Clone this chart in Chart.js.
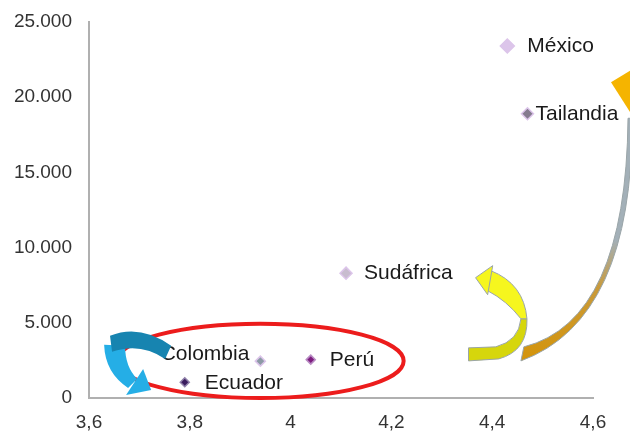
<!DOCTYPE html>
<html>
<head>
<meta charset="utf-8">
<script src="https://cdn.jsdelivr.net/npm/chart.js@4/dist/chart.umd.min.js"></script>
<style>
  html, body { margin: 0; padding: 0; background: #fff; }
  canvas { display: block; }
</style>
</head>
<body>
<canvas id="scatterChart" width="630" height="433"></canvas>
<script>
// data
const countries = ["México", "Tailandia", "Sudáfrica", "Colombia", "Perú", "Ecuador"];
const xValues = [4.43, 4.47, 4.11, 3.94, 4.04, 3.79];
const yValues = [23400, 18900, 8300, 2450, 2550, 1050];

// point looks
const pointFill = ["#dcc5ea", "#857b8f", "#c8bccf", "#8c9aa5", "#7d1c7e", "#3a1c5e"];
const pointEdge = ["#dcc5ea", "#dcc5ea", "#dcc5ea", "#dcc5ea", "#b98cc4", "#8f80aa"];
const pointSize = [7, 6, 6, 5, 4.5, 4.5];

const labelPlace = {
  "México": { dx: 20, dy: 0, align: "left" },
  "Tailandia": { dx: 8, dy: 0, align: "left" },
  "Sudáfrica": { dx: 18, dy: 0, align: "left" },
  "Colombia": { dx: -11, dy: -7, align: "right" },
  "Perú": { dx: 19, dy: 1, align: "left" },
  "Ecuador": { dx: 20, dy: 1, align: "left" },
};

// decorations, in data units
const ellipse = { x: 3.94, y: 2467, rx: 0.2843, ry: 2467 };

const blueShaft = [["M", 3.630, 3533], ["Q", 3.632, 1667, 3.6775, 667], ["L", 3.6954, 1267], ["Q", 3.6716, 2067, 3.6716, 3467]];
const blueHead = [["M", 3.6736, 200], ["L", 3.7074, 1933], ["L", 3.7233, 533]];
const blueTop = [["M", 3.6417, 4133], ["Q", 3.7014, 4933, 3.763, 3467], ["L", 3.7511, 2600], ["Q", 3.7014, 3733, 3.6457, 3067]];

const yellowLow = [["M", 4.469, 5267], ["Q", 4.471, 3133, 4.413, 2600], ["L", 4.353, 2467], ["L", 4.353, 3333], ["L", 4.407, 3400], ["Q", 4.453, 3800, 4.457, 5267]];
const yellowTop = [["M", 4.397, 8467], ["Q", 4.463, 7600, 4.469, 5267], ["L", 4.457, 5267], ["Q", 4.429, 6467, 4.391, 7133]];
const yellowHead = [["M", 4.367, 8000], ["L", 4.401, 8800], ["L", 4.391, 6867]];

const orangeBody = [["M", 4.457, 2467], ["Q", 4.6795, 5200, 4.6775, 18600], ["L", 4.6695, 18600], ["Q", 4.6656, 5133, 4.4628, 3400]];
const orangeHead = [["M", 4.6357, 21000], ["L", 4.6855, 22000], ["L", 4.6815, 18600]];

function tracePath(ctx, chart, cmds) {
  const sx = (v) => chart.scales.x.getPixelForValue(v);
  const sy = (v) => chart.scales.y.getPixelForValue(v);
  ctx.beginPath();
  cmds.forEach((c) => {
    if (c[0] === "M") ctx.moveTo(sx(c[1]), sy(c[2]));
    else if (c[0] === "L") ctx.lineTo(sx(c[1]), sy(c[2]));
    else if (c[0] === "Q") ctx.quadraticCurveTo(sx(c[1]), sy(c[2]), sx(c[3]), sy(c[4]));
  });
  ctx.closePath();
}

function shape(ctx, chart, cmds, fill, stroke) {
  tracePath(ctx, chart, cmds);
  ctx.fillStyle = fill;
  ctx.fill();
  if (stroke) {
    ctx.strokeStyle = stroke;
    ctx.lineWidth = 1;
    ctx.stroke();
  }
}

const pointLabels = {
  id: "pointLabels",
  afterDatasetsDraw(chart) {
    const ctx = chart.ctx;
    const meta = chart.getDatasetMeta(0);
    ctx.save();
    ctx.font = '21px "Liberation Sans", Arial, sans-serif';
    ctx.fillStyle = "#1a1a1a";
    ctx.textBaseline = "middle";
    meta.data.forEach((pt, i) => {
      const p = labelPlace[countries[i]];
      ctx.textAlign = p.align;
      ctx.fillText(countries[i], pt.x + p.dx, pt.y + p.dy);
    });
    ctx.restore();
  },
};

const decorations = {
  id: "decorations",
  afterDraw(chart) {
    const ctx = chart.ctx;
    const { x, y } = chart.scales;
    ctx.save();

    // red ellipse round the low group
    const cx = x.getPixelForValue(ellipse.x);
    const cy = y.getPixelForValue(ellipse.y);
    const rx = x.getPixelForValue(ellipse.x + ellipse.rx) - cx;
    const ry = cy - y.getPixelForValue(ellipse.y + ellipse.ry);
    ctx.beginPath();
    ctx.ellipse(cx, cy, rx, ry, 0, 0, Math.PI * 2);
    ctx.strokeStyle = "#ec1c1c";
    ctx.lineWidth = 4;
    ctx.stroke();

    // blue arrow
    shape(ctx, chart, blueShaft, "#25aee6");
    shape(ctx, chart, blueHead, "#25aee6");
    shape(ctx, chart, blueTop, "#1784b0");

    // yellow arrow
    shape(ctx, chart, yellowLow, "#d6d60c", "#9aa5a8");
    shape(ctx, chart, yellowTop, "#f6f61e", "#9aa5a8");
    shape(ctx, chart, yellowHead, "#f6f61e", "#9aa5a8");

    // orange arrow
    const g = ctx.createLinearGradient(0, y.getPixelForValue(2467), 0, y.getPixelForValue(18600));
    g.addColorStop(0, "#d4940a");
    g.addColorStop(0.3, "#c99a3a");
    g.addColorStop(0.5, "#a3b0b8");
    g.addColorStop(1, "#a3b0b8");
    shape(ctx, chart, orangeBody, g, "#9aa5a8");
    shape(ctx, chart, orangeHead, "#f5b400");

    ctx.restore();
  },
};

const formatY = (v) => String(v).replace(/\B(?=(\d{3})+(?!\d))/g, ".");
const formatX = (v) => {
  const r = Math.round(v * 10) / 10;
  return Number.isInteger(r) ? String(r) : r.toFixed(1).replace(".", ",");
};

const tickFont = { family: '"Liberation Sans", Arial, sans-serif', size: 19 };

const config = {
  type: "scatter",
  data: {
    datasets: [
      {
        label: "Países",
        data: xValues.map((v, i) => ({ x: v, y: yValues[i] })),
        pointStyle: "rectRot",
        pointRadius: pointSize,
        pointBackgroundColor: pointFill,
        pointBorderColor: pointEdge,
        pointBorderWidth: 1.5,
      },
    ],
  },
  options: {
    responsive: false,
    animation: false,
    layout: { padding: { top: 22, right: 37, left: 0, bottom: 0 } },
    plugins: {
      legend: { display: false },
      tooltip: { enabled: false },
    },
    scales: {
      x: {
        type: "linear",
        min: 3.6,
        max: 4.6,
        afterFit: (scale) => {
          scale.height = 35;
          scale.paddingLeft = 0;
          scale.paddingRight = 0;
        },
        grid: { display: false, drawTicks: false },
        border: { display: true, color: "#b0b0b0", width: 2 },
        ticks: { stepSize: 0.2, padding: 13, color: "#333333", font: tickFont, callback: formatX, maxRotation: 0 },
      },
      y: {
        min: 0,
        max: 25000,
        afterFit: (scale) => {
          scale.width = 89;
          scale.paddingTop = 0;
          scale.paddingBottom = 0;
        },
        grid: { display: false, drawTicks: false },
        border: { display: true, color: "#b0b0b0", width: 2 },
        ticks: { stepSize: 5000, padding: 17, color: "#333333", font: tickFont, callback: formatY },
      },
    },
  },
  plugins: [pointLabels, decorations],
};

new Chart(document.getElementById("scatterChart"), config);
</script>
</body>
</html>
